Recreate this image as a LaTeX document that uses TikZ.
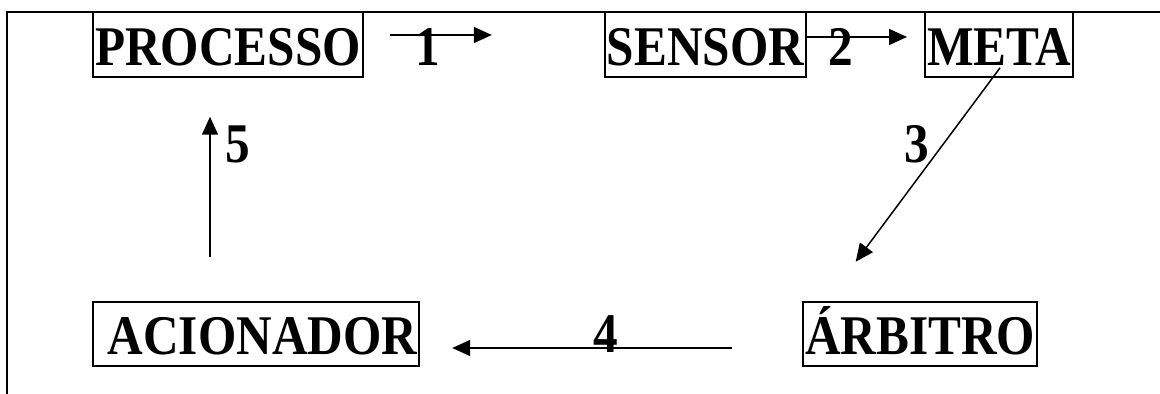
\documentclass[tikz,border=0pt]{standalone}
\usepackage{fontspec}
\setmainfont[FakeStretch=0.88]{Liberation Serif}
\usepackage{tikz}
\usetikzlibrary{arrows.meta,positioning}

\begin{document}
\begin{tikzpicture}[x=0.5pt, y=-0.5pt, >={Triangle[length=9pt,width=8pt]},
    box/.style={draw, line width=1pt, inner xsep=1pt, inner ysep=0pt,
      text height=26.5pt, text depth=5.75pt,
      font=\fontsize{28}{30}\selectfont\bfseries},
    num/.style={anchor=base, inner sep=0pt, font=\fontsize{28}{30}\selectfont\bfseries},
    flow/.style={->, line width=0.75pt}]
\useasboundingbox (0,0) rectangle (1160,394);
% frame on the left and top
\draw[line width=1pt] (7,394) -- (7,12) -- (1160,12);

% top row
\node[box] (processo) at (228,44.5) {PROCESSO};
\node[box, right=120pt of processo] (sensor) {SENSOR};
\node[box, right=58.5pt of sensor] (meta) {META};
% bottom row
\node[box] (acionador) at (256,334) {\hspace{6.5pt}ACIONADOR};
\node[box, right=191pt of acionador] (arbitro) {ÁRBITRO};

% loop of arrows
\draw[flow] ([shift={(26,-9.5)}]processo.east) -- ([shift={(-112,-9.5)}]sensor.west);
\draw[flow] ([yshift=3.75pt]sensor.east) -- ([shift={(-17,-7.5)}]meta.west);
\draw[flow] ([shift={(1,-10)}]meta.south) -- ([shift={(-64.5,-39)}]arbitro.north);
\draw[flow] ([shift={(-70,14)}]arbitro.west) -- ([shift={(32,14)}]acionador.east);
\draw[flow] ([shift={(-46,-44)}]acionador.north) -- ([shift={(-18,39)}]processo.south);

\node[num] (n1) at (428,66) {1};
\node[num] (n2) at (841,66) {2};
\node[num] (n3) at (917,163) {3};
\node[num] (n4) at (606,353) {4};
\node[num] (n5) at (238,163) {5};
\end{tikzpicture}
\end{document}
